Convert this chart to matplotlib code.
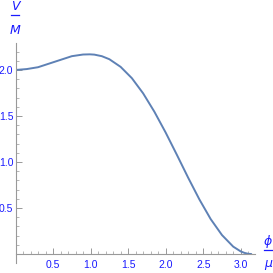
import matplotlib
matplotlib.use("Agg")
import matplotlib.pyplot as plt
from matplotlib.lines import Line2D
import numpy as np

# values
phi = [0.0, 0.15, 0.3, 0.45, 0.6, 0.75, 0.9, 0.99, 1.05, 1.15, 1.25, 1.4,
       1.55, 1.7, 1.85, 2.0, 2.15, 2.3, 2.45, 2.6, 2.75, 2.9, 3.0, 3.05,
       3.1, 3.14]
v = [2.0, 2.01, 2.03, 2.07, 2.11, 2.15, 2.168, 2.17, 2.167, 2.15, 2.117,
     2.034, 1.911, 1.746, 1.546, 1.32, 1.077, 0.829, 0.592, 0.379, 0.206,
     0.08, 0.028, 0.012, 0.002, 0.0]

xticks = [0.5, 1.0, 1.5, 2.0, 2.5, 3.0]
yticks = [0.5, 1.0, 1.5, 2.0]

W = 273
fig = plt.figure(figsize=(2.73, 2.73), dpi=100)

def fx(px):
    return px / W

def fy(py):
    return 1 - py / W

ax = fig.add_axes([fx(15.5), fy(263.2), fx(255) - fx(15.5), fy(43.3) - fy(263.2)])
ax.plot(phi, v, color="#5E81B5", lw=1.4, solid_capstyle="round",
        solid_joinstyle="round")
ax.set_xlim(0, 3.19)
ax.set_ylim(-0.1, 2.29)

for s in ["top", "right"]:
    ax.spines[s].set_visible(False)
ax.spines["left"].set_position(("data", 0))
ax.spines["bottom"].set_position(("data", 0))
for s in ["left", "bottom"]:
    ax.spines[s].set_color("#999999")
    ax.spines[s].set_linewidth(0.8)

ax.set_xticks(xticks)
ax.set_xticklabels([f"{t:.1f}" for t in xticks])
ax.set_yticks(yticks)
ax.set_yticklabels([f"{t:.1f}" for t in yticks])
ax.set_xticks(np.arange(0.1, 3.15, 0.1), minor=True)
ax.set_yticks(np.arange(0.1, 2.25, 0.1), minor=True)
ax.tick_params(which="major", direction="in", length=4, width=0.7,
               color="#999999", labelsize=7.5, labelcolor="#1a1aff", pad=1.5)
ax.tick_params(which="minor", direction="in", length=2, width=0.5,
               color="#999999")
ax.tick_params(axis="x", which="major", pad=4)
for lbl in ax.get_xticklabels() + ax.get_yticklabels():
    lbl.set_family("Liberation Sans")

# axis labels as stacked fractions
lab = dict(color="#1a1aff", fontsize=9, style="italic", ha="center", va="center")
fig.text(fx(15), fy(7), "V", **lab)
fig.add_artist(Line2D([fx(11), fx(19)], [fy(15), fy(15)], color="#1a1aff", lw=0.9))
fig.text(fx(15), fy(31), "M", **lab)
fig.text(fx(268), fy(241), "ϕ", **lab)
fig.add_artist(Line2D([fx(264), fx(272)], [fy(250), fy(250)], color="#1a1aff", lw=0.9))
fig.text(fx(268), fy(264), "μ", **lab)

fig.savefig("out.png", dpi=100)
